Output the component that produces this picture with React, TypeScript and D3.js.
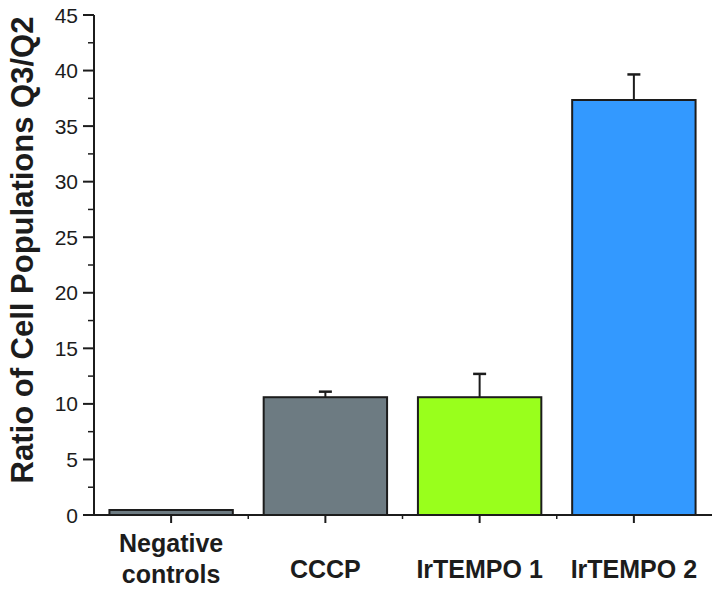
import React from "react";
import * as d3 from "d3";

const categories = ["Negative controls", "CCCP", "IrTEMPO 1", "IrTEMPO 2"];
const categoryLines = [["Negative", "controls"], ["CCCP"], ["IrTEMPO 1"], ["IrTEMPO 2"]];
const values = [0.45, 10.6, 10.6, 37.35];
const errors = [0, 0.5, 2.1, 2.3];
const colors = ["#6d7b82", "#6d7b82", "#99ff1c", "#3399ff"];
const yTicks = [0, 5, 10, 15, 20, 25, 30, 35, 40, 45];
const yMinor = [2.5, 7.5, 12.5, 17.5, 22.5, 27.5, 32.5, 37.5, 42.5];
const yTitle = "Ratio of Cell Populations Q3/Q2";

const W = 717;
const H = 590;
const FONT = "'Liberation Sans', Arial, sans-serif";
const INK = "#1c1c1c";

export default function App() {
  const y = d3.scaleLinear().domain([0, 45]).range([515, 15]);
  const x = d3
    .scaleBand<string>()
    .domain(categories)
    .range([94, 711])
    .paddingInner(0.2)
    .paddingOuter(0.1);
  const step = x.step();
  const x0 = 94;
  const xMinor = categories.slice(1).map((c) => (x(c) as number) - (step - x.bandwidth()) / 2);

  return (
    <svg
      width={W}
      height={H}
      style={{ position: "absolute", left: 0, top: 0, background: "#fff" }}
    >
      {/* bars */}
      {categories.map((c, i) => (
        <rect
          key={c}
          x={x(c)}
          y={y(values[i])}
          width={x.bandwidth()}
          height={y(0) - y(values[i])}
          fill={colors[i]}
          stroke={INK}
          strokeWidth={2}
        />
      ))}
      {/* error bars */}
      {categories.map((c, i) => {
        if (errors[i] <= 0) return null;
        const cx = (x(c) as number) + x.bandwidth() / 2;
        return (
          <g key={"e" + c} stroke={INK} strokeWidth={2}>
            <line x1={cx} x2={cx} y1={y(values[i])} y2={y(values[i] + errors[i])} />
            <line x1={cx - 6.5} x2={cx + 6.5} y1={y(values[i] + errors[i])} y2={y(values[i] + errors[i])} strokeWidth={2.5} />
          </g>
        );
      })}
      {/* y axis */}
      <line x1={x0} x2={x0} y1={y(45)} y2={y(0) + 1} stroke={INK} strokeWidth={2} />
      {yTicks.map((t) => (
        <g key={"yt" + t}>
          <line x1={x0 - 11} x2={x0} y1={y(t)} y2={y(t)} stroke={INK} strokeWidth={2} />
          <text
            x={78}
            y={y(t)}
            dy="0.36em"
            textAnchor="end"
            fontFamily={FONT}
            fontSize={21}
            fill={INK}
          >
            {t}
          </text>
        </g>
      ))}
      {yMinor.map((t) => (
        <line key={"ym" + t} x1={x0 - 6} x2={x0} y1={y(t)} y2={y(t)} stroke={INK} strokeWidth={1.5} />
      ))}
      {/* x axis */}
      <line x1={x0 - 1} x2={712} y1={y(0)} y2={y(0)} stroke={INK} strokeWidth={2} />
      {categories.map((c) => {
        const cx = (x(c) as number) + x.bandwidth() / 2;
        return <line key={"xt" + c} x1={cx} x2={cx} y1={y(0)} y2={y(0) + 8} stroke={INK} strokeWidth={2} />;
      })}
      {xMinor.map((m, i) => (
        <line key={"xm" + i} x1={m} x2={m} y1={y(0)} y2={y(0) + 4} stroke={INK} strokeWidth={1.5} />
      ))}
      {/* x labels */}
      {categories.map((c, i) => {
        const cx = (x(c) as number) + x.bandwidth() / 2;
        const lines = categoryLines[i];
        const baselines = lines.length === 2 ? [552, 583] : [578];
        return (
          <text
            key={"xl" + c}
            textAnchor="middle"
            fontFamily={FONT}
            fontWeight="bold"
            fontSize={25}
            fill={INK}
          >
            {lines.map((l, j) => (
              <tspan key={j} x={cx} y={baselines[j]}>
                {l}
              </tspan>
            ))}
          </text>
        );
      })}
      {/* y title */}
      <text
        transform={`translate(33, 250) rotate(-90)`}
        textAnchor="middle"
        fontFamily={FONT}
        fontWeight="bold"
        fontSize={31}
        fill={INK}
      >
        {yTitle}
      </text>
    </svg>
  );
}
